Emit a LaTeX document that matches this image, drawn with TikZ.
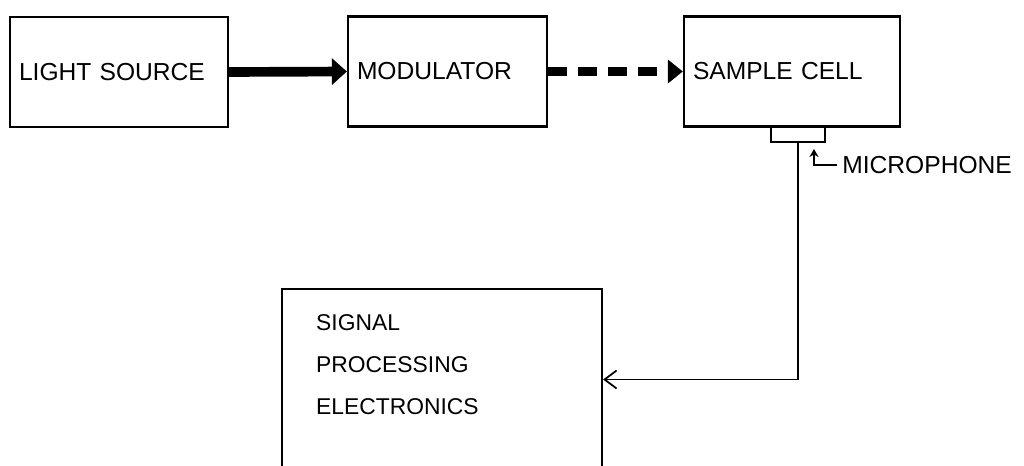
\documentclass[tikz,border=0pt]{standalone}
\usepackage{fontspec}
\setmainfont{Liberation Sans}
\usetikzlibrary{arrows.meta,positioning,calc}

\begin{document}
\begin{tikzpicture}[
    box/.style={
        rectangle,
        draw=black,
        line width=1.3pt,
        minimum height=2.2cm,
        align=left,
        inner xsep=0.18cm,
        font=\fontsize{14}{17}\selectfont
    },
    micbox/.style={
        rectangle,
        draw=black,
        line width=1.1pt,
        minimum width=1.08cm,
        minimum height=0.32cm,
        inner sep=0pt
    },
    bigbox/.style={
        rectangle,
        draw=black,
        line width=1.3pt,
        minimum width=6.4cm,
        minimum height=3.62cm
    },
    label/.style={font=\fontsize{13}{24}\selectfont, align=left, inner sep=0pt},
    beam/.style={-{Triangle[length=3mm,width=5.2mm]}, line width=5.5pt},
    chopped/.style={-{Triangle[length=3mm,width=4.6mm]}, line width=4.6pt,
        dash pattern=on 0.38cm off 0.22cm},
    wire/.style={-{Straight Barb[length=2.4mm,width=3.6mm]}, line width=1pt},
    pointer/.style={-{Stealth[length=1.6mm,width=1.8mm]}, line width=0.9pt}
]

\clip (0,0) rectangle (20.48,-9.32);

\node[box, text width=4.0cm] (light) at (2.38,-1.44) {LIGHT SOURCE};
\node[box, text width=3.62cm] (mod) at (8.95,-1.43) {MODULATOR};
\node[box, text width=3.96cm] (cell) at (15.84,-1.43) {SAMPLE CELL};
\node[micbox] (mic) at (15.96,-2.68) {};

\node[bigbox] (sig) at (8.84,-7.59) {};
\node[label, below right=0.52cm and 0.7cm of sig.north west]
    (sigtext) {SIGNAL\\PROCESSING\\ELECTRONICS};

\node[font=\fontsize{14}{17}\selectfont, inner sep=0pt, inner xsep=0.1cm,
    anchor=west] (miclbl) at (16.74,-3.3) {MICROPHONE};
\coordinate (mictip) at (16.28,-2.98);

\draw[beam] (light.east) -- (mod.west);
\draw[chopped] (mod.east) -- (cell.west);
\draw[wire] (mic.south) |- (sig.east);
\draw[pointer] (miclbl.west) -| (mictip);

\end{tikzpicture}
\end{document}
